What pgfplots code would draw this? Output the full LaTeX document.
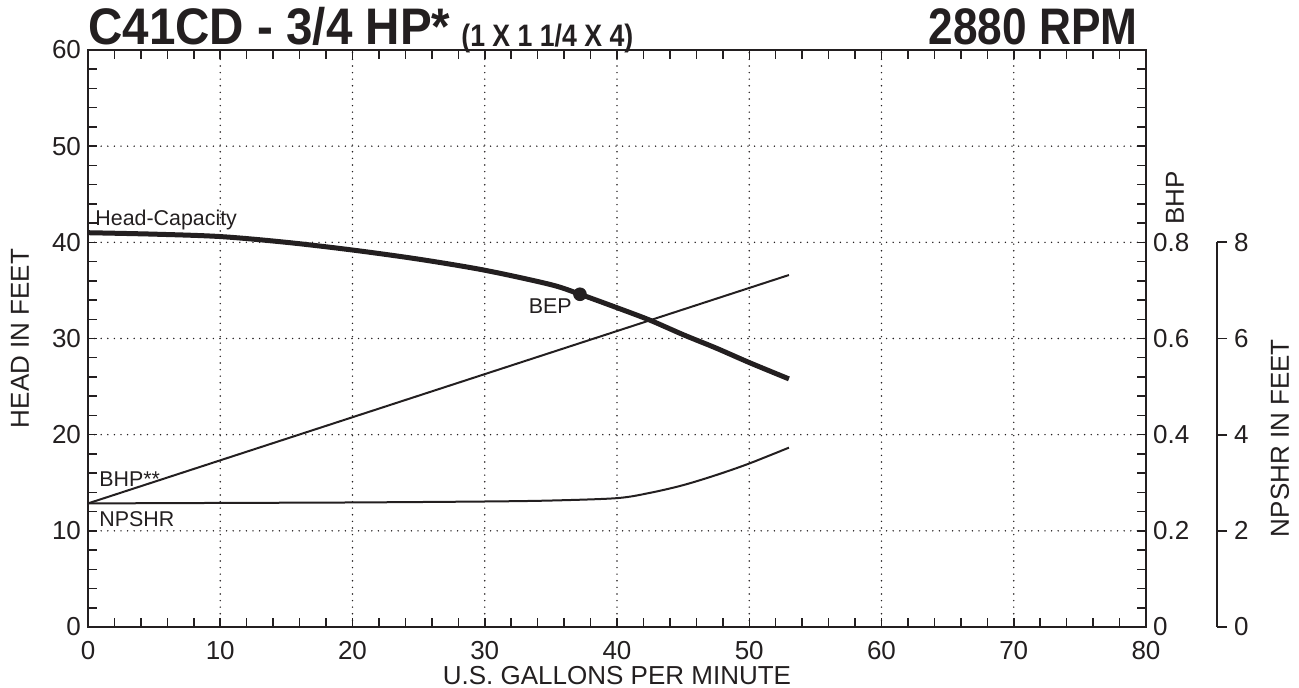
\documentclass[border=0pt]{standalone}
\usepackage{fontspec}
\setmainfont{Liberation Sans}
\newfontfamily\titlefont[FakeStretch=0.86]{Liberation Sans Bold}
\newfontfamily\titlefontwide[FakeStretch=0.925]{Liberation Sans Bold}
\usepackage{pgfplots}
\pgfplotsset{compat=1.18}
\definecolor{ink}{HTML}{231F20}

\pgfplotsset{
  chart/.style={
    scale only axis, width=529pt, height=288.5pt,
    at={(0,0)}, anchor=south west,
    xmin=0, xmax=80,
    ticklabel style={font=\fontsize{13}{15}\selectfont, text=ink},
    /pgf/number format/assume math mode=true,
    axis line style={ink, line width=1.4pt, -},
  },
}
\tikzset{lab/.style={font=\fontsize{10.7}{12}\selectfont, text=ink, inner sep=0pt}}

\begin{document}
\begin{tikzpicture}
\path[use as bounding box] (-44pt,-30.5pt) rectangle (605.5pt,313.5pt);

% head axis (main)
\begin{axis}[chart,
  ymin=0, ymax=60,
  xtick={0,10,...,80}, ytick={0,10,...,60},
  minor x tick num=4, minor y tick num=4,
  tick pos=both, xticklabel pos=lower, yticklabel pos=left,
  tick align=inside,
  major tick length=4.5pt, minor tick length=4.5pt,
  every tick/.style={ink, line width=0.75pt},
  xticklabel style={yshift=-3.5pt},
  grid=major,
  major grid style={ink, line width=0.8pt, dash pattern=on 0pt off 3.3pt, line cap=round},
  xlabel={U.S. GALLONS PER MINUTE}, ylabel={HEAD IN FEET},
  every axis x label/.style={at={(axis description cs:0.5,0)}, anchor=center, yshift=-24.5pt,
    font=\fontsize{13}{15}\selectfont, text=ink},
  every axis y label/.style={at={(axis description cs:0,0.5)}, xshift=-34pt, rotate=90, anchor=center,
    font=\fontsize{13}{15}\selectfont, text=ink},
]
% Head-Capacity curve
\addplot[ink, line width=2.5pt, smooth] coordinates {
  (0,41.0) (5,40.85) (10,40.6) (15,40.0) (20,39.2) (25,38.25) (30,37.1)
  (35,35.6) (37.2,34.6) (40,33.2) (42.5,31.9) (45,30.4) (47.5,29.0)
  (50,27.5) (53,25.8)};
% BEP
\addplot[ink, only marks, mark=*, mark size=3.2pt] coordinates {(37.2,34.6)};

\node[lab, anchor=base west] at (axis cs:0.53,41.7) {Head-Capacity};
\node[lab, anchor=base west] at (axis cs:0.83,14.66) {BHP**};
\node[lab, anchor=base west] at (axis cs:0.83,10.5) {NPSHR};
\node[lab, anchor=base west] at (axis cs:33.3,32.55) {BEP};
\end{axis}

% BHP axis (right)
\begin{axis}[chart,
  ymin=0, ymax=1.2,
  hide x axis, axis y line*=right,
  ytick={0,0.2,0.4,0.6,0.8},
  major tick length=0pt,
  ylabel={BHP},
  every axis y label/.style={at={(axis description cs:1.0274,0.7435)}, rotate=90, anchor=center,
    font=\fontsize{13}{15}\selectfont, text=ink},
]
\addplot[ink, line width=1pt] coordinates {(0,0.257) (53,0.732)};
\end{axis}

% NPSHR axis (far right)
\begin{axis}[
  scale only axis, width=564.5pt, height=192.33pt,
  at={(0,0)}, anchor=south west,
  xmin=0, xmax=85.37, ymin=0, ymax=8,
  hide x axis, axis y line*=right,
  ytick={0,2,4,6,8},
  tick align=outside, major tick length=5pt,
  every tick/.style={ink, line width=0.9pt},
  axis line style={ink, line width=1.4pt, -},
  ticklabel style={font=\fontsize{13}{15}\selectfont, text=ink},
  /pgf/number format/assume math mode=true,
  ylabel={NPSHR IN FEET},
  every axis y label/.style={at={(axis description cs:1.0558,0.491)}, rotate=90, anchor=center,
    font=\fontsize{13}{15}\selectfont, text=ink},
]
\addplot[ink, line width=1pt, smooth] coordinates {
  (0,2.57) (10,2.58) (20,2.59) (30,2.61) (35,2.63) (40,2.68)
  (42.5,2.79) (45,2.95) (47.5,3.16) (50,3.40) (53,3.73)};
\end{axis}

% titles
\node[anchor=base west, inner sep=0pt, text=ink, font=\titlefontwide\fontsize{25.7}{28}\selectfont]
  at (0pt,291pt) {C41CD - 3/4 HP*};
\node[anchor=base west, inner sep=0pt, text=ink, font=\titlefont\fontsize{15.5}{17}\selectfont]
  at (186.5pt,290pt) {(1 X 1 1/4 X 4)};
\node[anchor=base east, inner sep=0pt, text=ink, font=\titlefont\fontsize{25.7}{28}\selectfont]
  at (525pt,291pt) {2880 RPM};
\end{tikzpicture}
\end{document}
